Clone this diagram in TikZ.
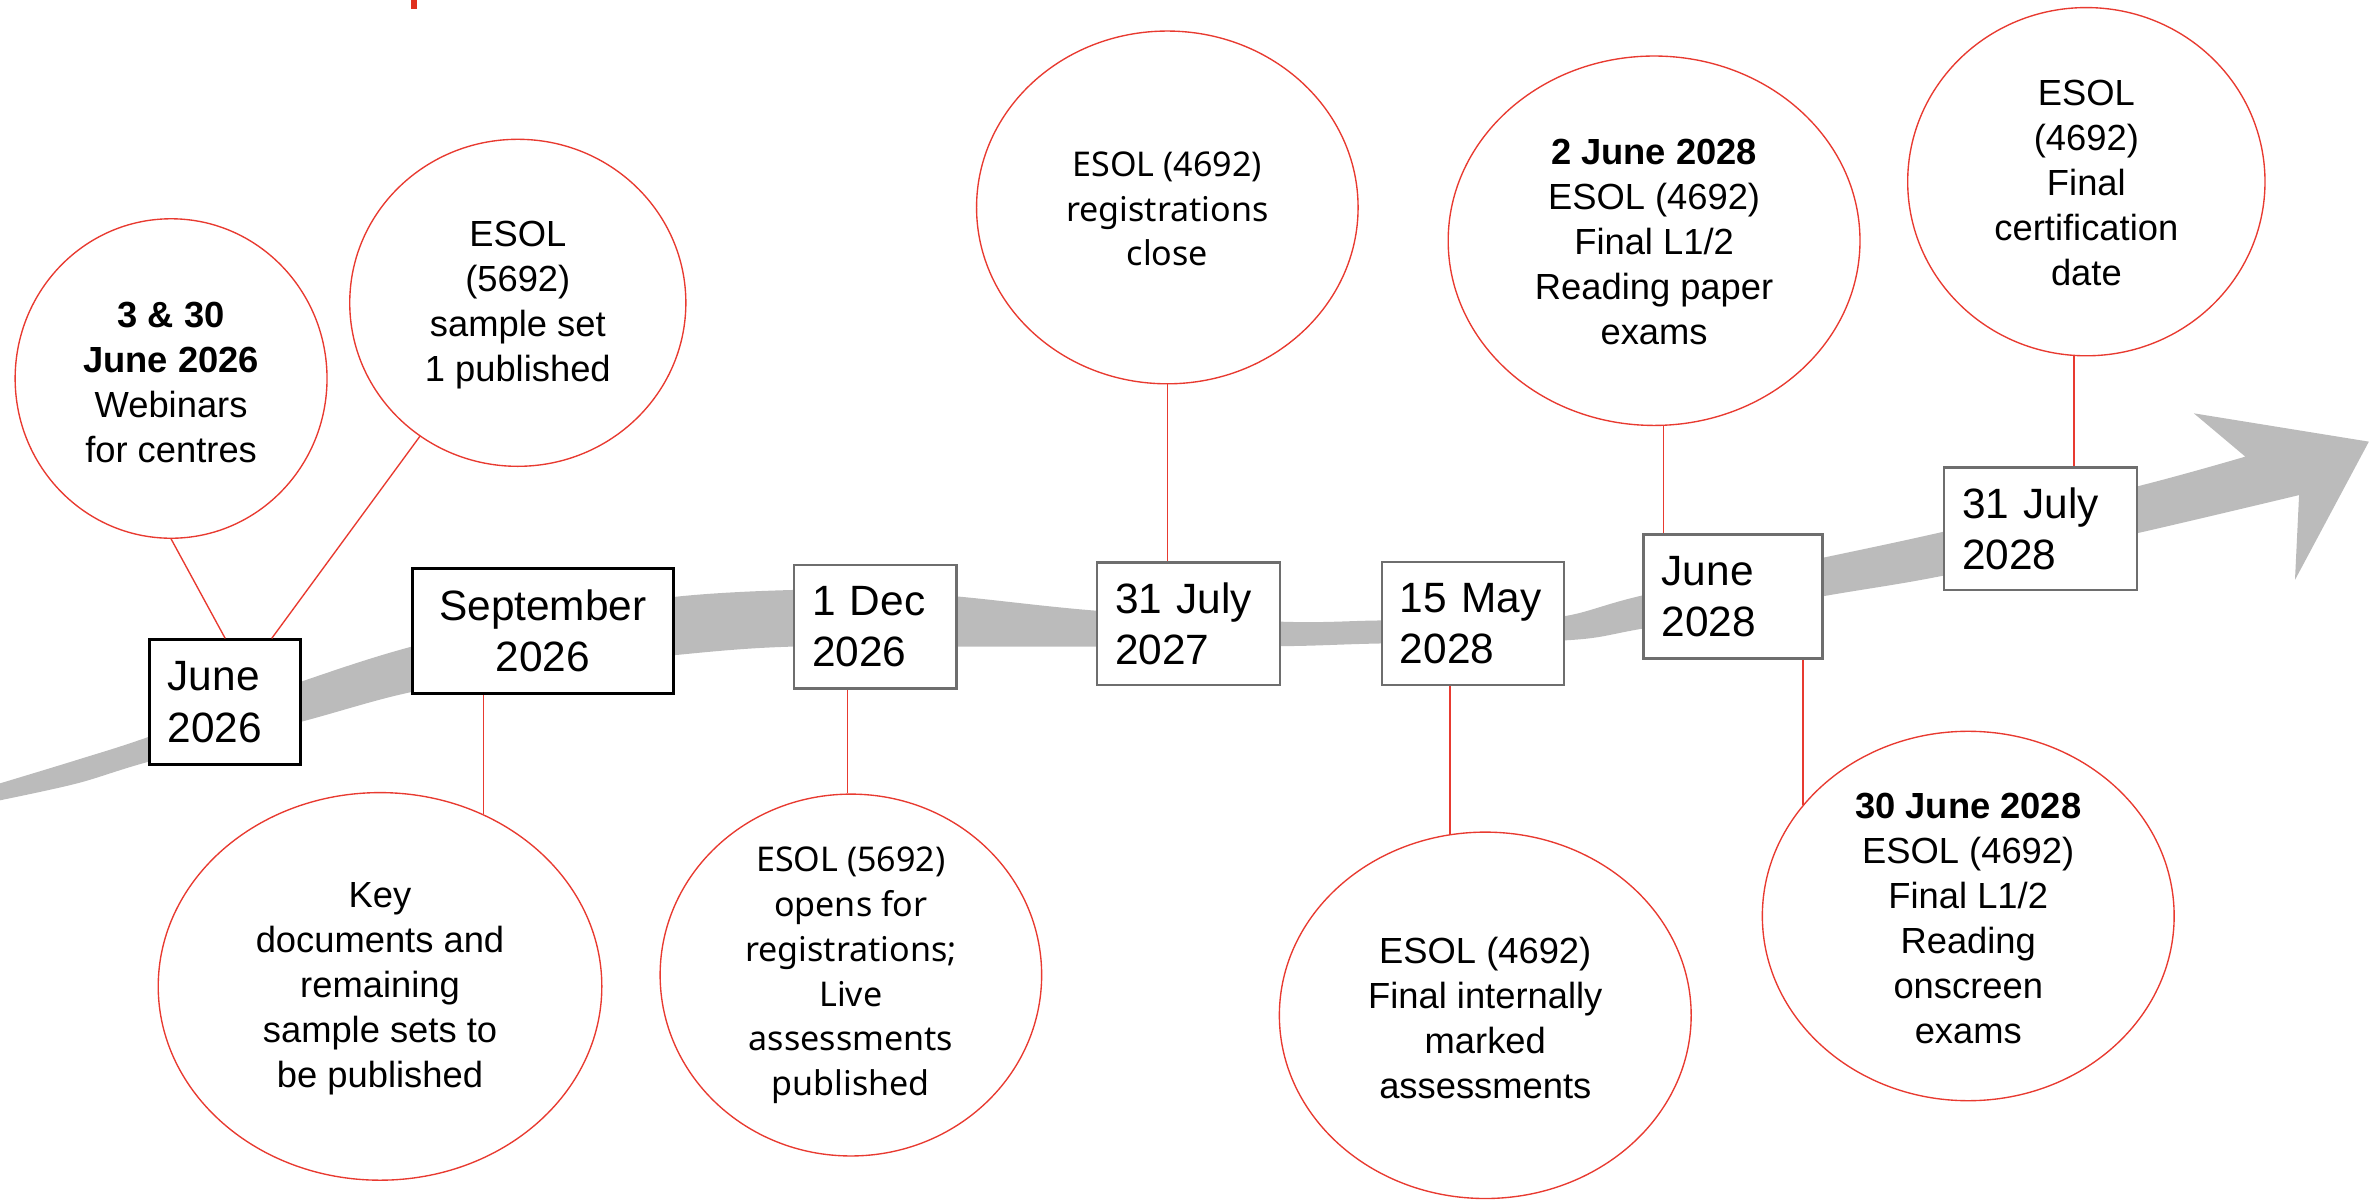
\documentclass[tikz,border=0pt]{standalone}
\usepackage{fontspec}
\setmainfont{Liberation Sans}
\newfontfamily\aptosfont{Noto Sans}
\usetikzlibrary{shapes.geometric}
\definecolor{lred}{RGB}{232,58,48}
\definecolor{mred}{RGB}{224,48,30}
\definecolor{arrowgray}{RGB}{187,187,187}
\definecolor{boxgray}{RGB}{110,110,110}
\begin{document}
\begin{tikzpicture}[x=1pt,y=-1pt,
  ell/.style={ellipse, draw=lred, line width=0.9pt, fill=white, inner sep=0pt},
  etext/.style={align=center, inner sep=0pt, font=\fontsize{24}{29.7}\selectfont},
  atext/.style={align=center, inner sep=0pt, font=\aptosfont\fontsize{22.5}{29.6}\selectfont},
  conn/.style={draw=lred, line width=0.9pt},
  datebox/.style={draw=black, line width=2pt, fill=white, inner xsep=12pt, inner ysep=0pt, align=left, font=\fontsize{28}{34}\selectfont},
  graybox/.style={datebox, draw=boxgray, line width=1.5pt}
]
\useasboundingbox (0,0) rectangle (1568,792);

% top red mark
\fill[mred] (271.5,0) rectangle (275.2,6.2);

% gray timeline arrow
\fill[arrowgray] plot[smooth, tension=0.55] coordinates {(-2,518) (50.6,502) (98.5,486.6) (199,450.2) (272.2,427) (360,407) (446.8,394.1) (522.5,389.7) (580,390.5) (633.8,394.1) (724.6,403.4) (846,410.6) (912,409.8) (980,409.5) (1033,407) (1086,393) (1203,368.6) (1284.6,351) (1411,321.4) (1483,301.6)}
  -- (1449,273) -- (1564.6,291.7) -- (1515.8,383)
  -- plot[smooth, tension=0.55] coordinates {(1518.5,327) (1411,352.3) (1284.6,380) (1203,394) (1086,415) (1033,423) (912,425) (846,426.8) (724.6,427.1) (633.8,427.1) (522.5,427.1) (446.8,432.6) (360,443) (272.2,457) (199,476.7) (98.5,503) (50.6,517.5) (-2,529)}
  -- cycle;

% date boxes
\node[datebox, text width=76pt, minimum height=82pt] (b1) at (148.75,463.65) {June\\2026};
\node[datebox, align=center, text width=148.5pt, minimum height=82pt] (b2) at (358.55,416.8) {September\\2026};
\node[graybox, text width=83.4pt, minimum height=81.7pt] (b3) at (578.1,413.85) {1 Dec\\2026};
\node[graybox, text width=96.6pt, minimum height=80.8pt] (b4) at (784.9,411.9) {31 July\\2027};
\node[graybox, text width=96.4pt, minimum height=81.6pt] (b5) at (972.8,411.8) {15 May\\2028};
\node[graybox, text width=94.3pt, minimum height=82pt] (b6) at (1144.65,394) {June\\2028};
\node[graybox, text width=103.5pt, minimum height=81.1pt] (b7) at (1347.75,349.25) {31 July\\2028};

% ellipses
\node[ell, minimum width=206pt, minimum height=211pt] (e1) at (113,250) {};
\node[etext] (t1) at (113,252.7) {\textbf{3 \& 30}\\\textbf{June 2026}\\Webinars\\for centres};
\node[ell, minimum width=222pt, minimum height=216pt] (e2) at (342,200) {};
\node[etext] (t2) at (342,201.5) {ESOL\\(5692)\\sample set\\1 published};
\node[ell, minimum width=293pt, minimum height=256pt] (e3) at (251,651.5) {};
\node[etext] (t3) at (251,653) {Key\\documents and\\remaining\\sample sets to\\be published};
\node[ell, minimum width=252pt, minimum height=239pt] (e4) at (562,644) {};
\node[atext] (t4) at (562,644.2) {ESOL (5692)\\opens for\\registrations;\\Live\\assessments\\published};
\node[ell, minimum width=252pt, minimum height=233pt] (e5) at (771,137) {};
\node[atext] (t5) at (771,138) {ESOL (4692)\\registrations\\close};
\node[ell, minimum width=272pt, minimum height=244pt] (e6) at (1092.5,159) {};
\node[etext] (t6) at (1092.5,160) {\textbf{2 June 2028}\\ESOL (4692)\\Final L1/2\\Reading paper\\exams};
\node[ell, minimum width=236pt, minimum height=230pt] (e7) at (1378,120) {};
\node[etext] (t7) at (1378,121) {ESOL\\(4692)\\Final\\certification\\date};
\node[ell, minimum width=272pt, minimum height=244pt] (e8) at (1300,605) {};
\node[etext] (t8) at (1300,606.5) {\textbf{30 June 2028}\\ESOL (4692)\\Final L1/2\\Reading\\onscreen\\exams};
\node[ell, minimum width=272pt, minimum height=242pt] (e9) at (981,670.6) {};
\node[etext] (t9) at (981,672.4) {ESOL (4692)\\Final internally\\marked\\assessments};

% connectors
\draw[conn] (e1.south) -- (b1.north);
\draw[conn] (e2) -- (b1);
\draw[conn] (e3.59.5) -- (e3.59.5 |- b2.south);
\draw[conn] (e4.91) -- (e4.91 |- b3.south);
\draw[conn] (e5.south) -- (e5.south |- b4.north);
\draw[conn] (e9.101.6) -- (e9.101.6 |- b5.south);
\draw[conn] (e6.-87.5) -- (e6.-87.5 |- b6.north);
\draw[conn] (e8.146.3) -- (e8.146.3 |- b6.south);
\draw[conn] (e7.-94.6) -- (e7.-94.6 |- b7.north);
\end{tikzpicture}
\end{document}
